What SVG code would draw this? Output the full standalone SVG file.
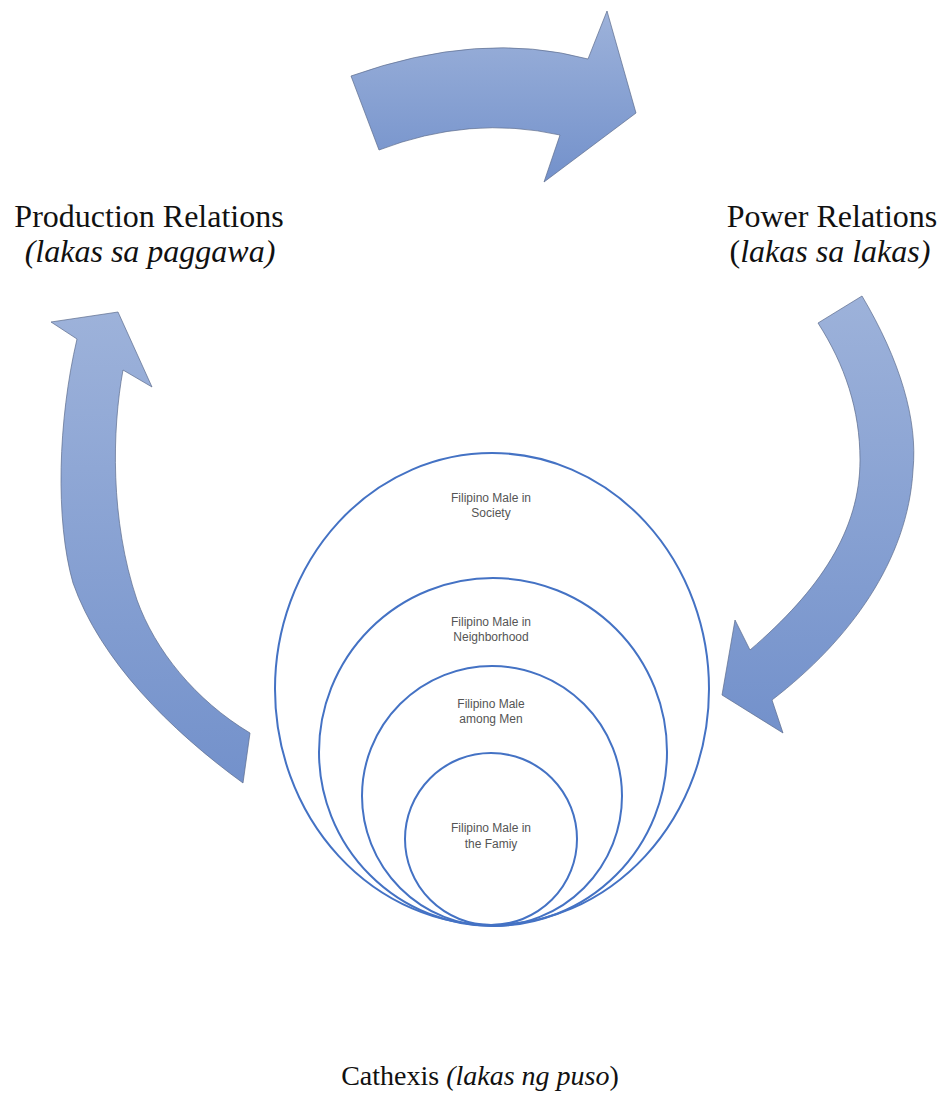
<svg xmlns="http://www.w3.org/2000/svg" width="949" height="1112" viewBox="0 0 949 1112">
<defs>
<linearGradient id="g" x1="0" y1="0" x2="0" y2="1">
<stop offset="0" stop-color="#9db2da"/>
<stop offset="1" stop-color="#7391cb"/>
</linearGradient>
<style>
.arrow{fill:url(#g);stroke:#5b6b8c;stroke-width:0.7}
.ring{fill:none;stroke:#4472c4;stroke-width:2}
.lbl{font-family:"Liberation Serif","Times New Roman",serif;font-size:32px;fill:#111;text-anchor:middle}
.it{font-style:italic}
.in{font-family:"Liberation Sans",Arial,sans-serif;font-size:12px;fill:#555;text-anchor:middle}
</style>
</defs>
<rect width="949" height="1112" fill="#fff"/>
<g id="connectors">
<path id="arrow-top" class="arrow" d="M351,76 Q480,30 588,59 L607,11 L636,113 L544,182 L560,135 Q470,115 379,150 Z"/>
<path id="arrow-right" class="arrow" d="M862,296 C900,360 918,420 913,470 C908,560 850,640 772,700 L783,733 L722,695 L735,620 L750,650 C820,590 860,530 860,460 C860,410 845,365 818,323 Z"/>
<path id="arrow-left" class="arrow" d="M118,312 L152,387 L123,370 C112,430 110,520 137,600 C155,650 195,700 250,733 L243,783 C170,730 100,660 73,583 C55,520 58,420 77,339 L51,322 Z"/>
</g>
<g id="production">
<text class="lbl" x="149" y="227">Production Relations</text>
<text class="lbl it" x="150" y="262">(lakas sa paggawa)</text>
</g>
<g id="power">
<text class="lbl" x="832" y="227">Power Relations</text>
<text class="lbl" x="830" y="262">(<tspan class="it">lakas sa lakas)</tspan></text>
</g>
<g id="society">
<ellipse class="ring" cx="492" cy="689" rx="217" ry="236"/>
<text class="in" x="491" y="502">Filipino Male in</text>
<text class="in" x="491" y="517">Society</text>
</g>
<g id="neighborhood">
<circle class="ring" cx="493" cy="752" r="174"/>
<text class="in" x="491" y="626">Filipino Male in</text>
<text class="in" x="491" y="641">Neighborhood</text>
</g>
<g id="men">
<circle class="ring" cx="492" cy="796" r="130"/>
<text class="in" x="491" y="708">Filipino Male</text>
<text class="in" x="491" y="723">among Men</text>
</g>
<g id="family">
<circle class="ring" cx="491" cy="839" r="86"/>
<text class="in" x="491" y="832">Filipino Male in</text>
<text class="in" x="491" y="848">the Famiy</text>
</g>
<g id="cathexis">
<text class="lbl" x="480" y="1085" style="font-size:28px">Cathexis <tspan class="it">(lakas ng puso</tspan>)</text>
</g>
</svg>
